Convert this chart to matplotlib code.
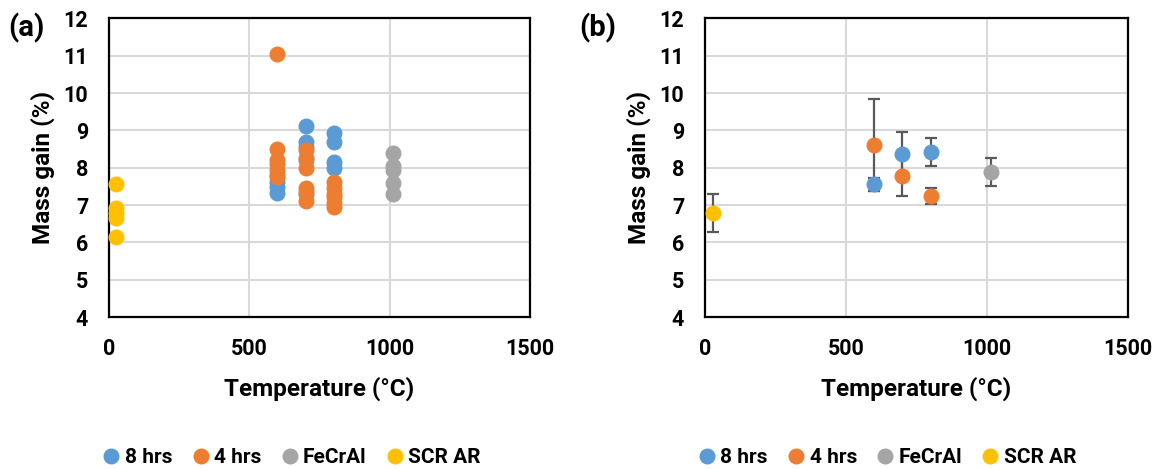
import numpy as np
from matplotlib import pyplot as plt
from matplotlib.lines import Line2D

plt.rcParams['font.family'] = ['Roboto', 'DejaVu Sans']
plt.rcParams['font.weight'] = 'bold'

# colours of the four series (Excel default palette)
series_names = ["8 hrs", "4 hrs", "FeCrAl", "SCR AR"]
series_colors = ["#5B9BD5", "#ED7D31", "#A5A5A5", "#FFC000"]

# (a) individual samples
t_8h = [600, 600, 600, 600, 700, 700, 700, 700, 700, 800, 800, 800, 800]
m_8h = [7.32, 7.48, 7.62, 7.80, 9.12, 8.70, 8.55, 8.20, 7.30, 8.92, 8.68, 8.16, 8.00]
t_4h = [600, 600, 600, 600, 600, 600, 700, 700, 700, 700, 700, 700, 800, 800, 800, 800, 800, 800]
m_4h = [11.05, 8.50, 8.20, 8.10, 7.95, 7.75, 8.47, 8.25, 8.00, 7.47, 7.35, 7.10,
        7.62, 7.45, 7.30, 7.22, 7.05, 6.94]
t_fecral = [1010, 1010, 1010, 1010, 1010]
m_fecral = [8.40, 8.05, 7.95, 7.60, 7.30]
t_scr = [25, 25, 25, 25, 25]
m_scr = [7.56, 6.92, 6.80, 6.65, 6.15]

# (b) averages with error bars
tb_8h = [600, 700, 800]
mb_8h = [7.56, 8.37, 8.43]
eb_8h = [0.17, 0.60, 0.37]
tb_4h = [600, 700, 800]
mb_4h = [8.61, 7.77, 7.25]
eb_4h = [1.23, 0.53, 0.22]
tb_fecral = [1013]
mb_fecral = [7.88]
eb_fecral = [0.38]
tb_scr = [27]
mb_scr = [6.78]
eb_scr = [0.51]

x_ticks = [0, 500, 1000, 1500]
y_ticks = [4, 5, 6, 7, 8, 9, 10, 11, 12]

fig = plt.figure(figsize=(11.54, 4.69), dpi=100)
ax_a = fig.add_axes([0.0945, 0.324, 0.3648, 0.6366])
ax_b = fig.add_axes([0.6109, 0.324, 0.3666, 0.6366])

ms = 10.5


def style_axes(ax):
    ax.set_xlim(0, 1500)
    ax.set_ylim(4, 12)
    ax.set_xticks(x_ticks)
    ax.set_yticks(y_ticks)
    ax.grid(True, color="#D9D9D9", linewidth=1.5, zorder=0)
    ax.set_axisbelow(True)
    for sp in ax.spines.values():
        sp.set_linewidth(1.6)
        sp.set_color("black")
    ax.tick_params(length=0, labelsize=15.5, pad=15)
    for lab in ax.get_xticklabels() + ax.get_yticklabels():
        lab.set_fontweight("bold")
    ax.set_xlabel("Temperature (°C)", fontsize=17.5, fontweight="bold", labelpad=12)
    ax.set_ylabel("Mass gain (%)", fontsize=17.5, fontweight="bold", labelpad=6)


# panel (a)
for t, m, c in zip([t_8h, t_4h, t_fecral, t_scr], [m_8h, m_4h, m_fecral, m_scr], series_colors):
    ax_a.plot(t, m, "o", color=c, markersize=ms, linestyle="none", zorder=3, clip_on=False)
style_axes(ax_a)

# panel (b)
for t, m, e, c in zip([tb_8h, tb_4h, tb_fecral, tb_scr], [mb_8h, mb_4h, mb_fecral, mb_scr],
                      [eb_8h, eb_4h, eb_fecral, eb_scr], series_colors):
    ax_b.errorbar(t, m, yerr=e, fmt="none", ecolor="#595959", elinewidth=1.6,
                  capsize=4.3, capthick=1.6, zorder=2)
    ax_b.plot(t, m, "o", color=c, markersize=ms, linestyle="none", zorder=3, clip_on=False)
style_axes(ax_b)

fig.text(0.007, 0.94, "(a)", fontsize=21, fontweight="bold", va="center")
fig.text(0.502, 0.94, "(b)", fontsize=21, fontweight="bold", va="center")

handles = [Line2D([], [], marker="o", linestyle="none", color=c, markersize=ms) for c in series_colors]
for xc in [0.253, 0.769]:
    fig.legend(handles, series_names, loc="center", bbox_to_anchor=(xc, 0.024), ncol=4,
               frameon=False, handletextpad=0.25, columnspacing=0.95,
               handlelength=0.8, prop={"weight": "bold", "size": 15})

fig.savefig("out.png", dpi=100)
